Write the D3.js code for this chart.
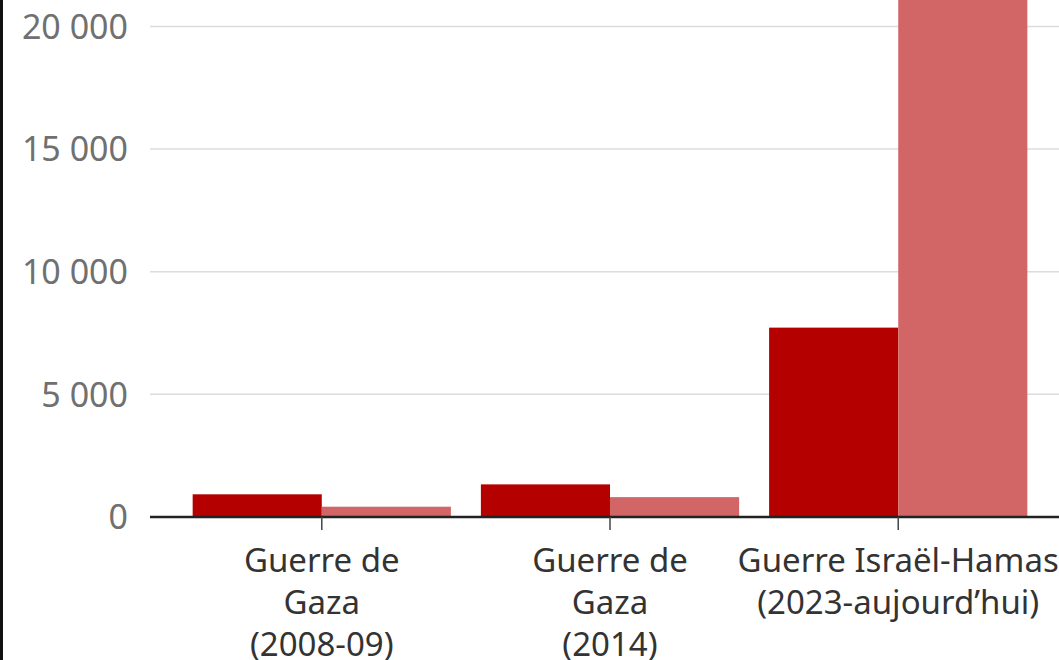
<!DOCTYPE html>
<html>
<head>
<meta charset="utf-8">
<script src="https://cdn.jsdelivr.net/npm/d3@7"></script>
<style>
  html, body { margin: 0; padding: 0; background: #fff; overflow: hidden; }
  svg { display: block; }
</style>
</head>
<body>
<svg id="chart" width="1059" height="660"></svg>
<script>
// Data
const categories = ["g1", "g2", "g3"];
const categoryLabels = [
  ["Guerre de", "Gaza", "(2008-09)"],
  ["Guerre de", "Gaza", "(2014)"],
  ["Guerre Israël-Hamas", "(2023-aujourd’hui)"]
];
const seriesNames = ["dark", "light"];
const darkValues = [925, 1330, 7720];
const lightValues = [420, 810, 21500];
const yTicks = [0, 5000, 10000, 15000, 20000];
const yTickLabels = ["0", "5 000", "10 000", "15 000", "20 000"];

const colors = { dark: "#b50000", light: "#d26666" };

const svg = d3.select("#chart");
const W = 1059, H = 660;

const y = d3.scaleLinear().domain([0, 20000]).range([517, 26.4]);
const x = d3.scaleBand().domain(categories).range([150, 1070]).paddingInner(0.104).paddingOuter(0.148);
const xs = d3.scaleBand().domain(seriesNames).range([0, x.bandwidth()]).padding(0);

// left black strip
svg.append("rect").attr("x", 0).attr("y", 0).attr("width", 3).attr("height", H).attr("fill", "#111");

// gridlines
svg.append("g").selectAll("line").data(yTicks.filter(d => d > 0)).join("line")
  .attr("x1", 150).attr("x2", W)
  .attr("y1", d => y(d)).attr("y2", d => y(d))
  .attr("stroke", "#dcdcdc").attr("stroke-width", 1.5);

// y labels
svg.append("g").selectAll("text").data(yTicks).join("text")
  .attr("x", 128).attr("y", d => y(d))
  .attr("dy", "0.36em")
  .attr("text-anchor", "end")
  .attr("font-family", "'Noto Sans', sans-serif")
  .attr("font-size", 34)
  .attr("fill", "#707070")
  .text((d, i) => yTickLabels[i]);

// bars
const rows = categories.map((c, i) => ({ cat: c, dark: darkValues[i], light: lightValues[i] }));
const g = svg.append("g");
rows.forEach(r => {
  seriesNames.forEach(s => {
    g.append("rect")
      .attr("x", x(r.cat) + xs(s))
      .attr("y", y(r[s]))
      .attr("width", xs.bandwidth())
      .attr("height", y(0) - y(r[s]))
      .attr("fill", colors[s]);
  });
});

// x axis line
svg.append("line").attr("x1", 150).attr("x2", W).attr("y1", y(0)).attr("y2", y(0))
  .attr("stroke", "#222").attr("stroke-width", 2.5);

// ticks
svg.append("g").selectAll("line").data(categories).join("line")
  .attr("x1", d => x(d) + x.bandwidth() / 2).attr("x2", d => x(d) + x.bandwidth() / 2)
  .attr("y1", y(0)).attr("y2", y(0) + 13)
  .attr("stroke", "#444").attr("stroke-width", 1.5);

// x labels
categories.forEach((c, i) => {
  const t = svg.append("text")
    .attr("text-anchor", "middle")
    .attr("font-family", "'Noto Sans', sans-serif")
    .attr("font-size", 33)
    .attr("fill", "#333");
  categoryLabels[i].forEach((line, j) => {
    t.append("tspan").attr("x", x(c) + x.bandwidth() / 2).attr("y", 572 + j * 42).text(line);
  });
});
</script>
</body>
</html>
